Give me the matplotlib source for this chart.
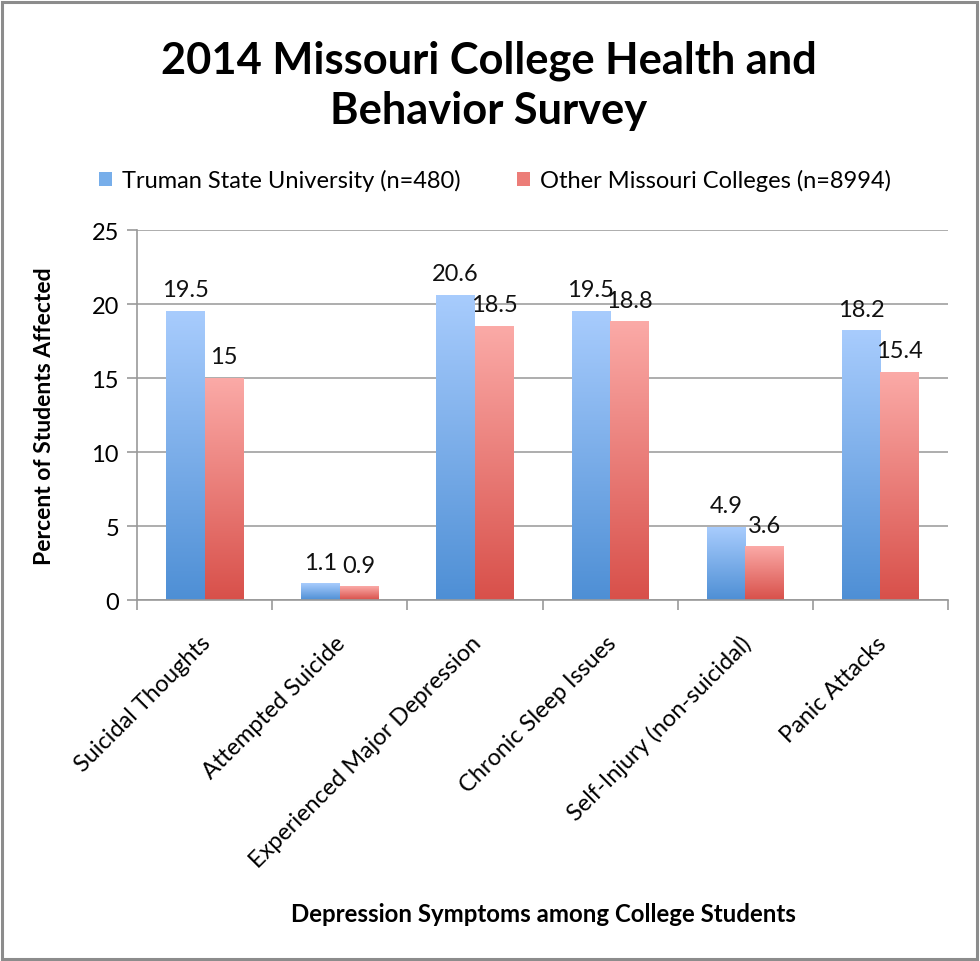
import matplotlib
matplotlib.use("Agg")
import matplotlib.pyplot as plt
import numpy as np
from matplotlib.patches import Rectangle, Patch
from matplotlib.colors import LinearSegmentedColormap
from matplotlib.transforms import ScaledTranslation

categories = ["Suicidal Thoughts", "Attempted Suicide", "Experienced Major Depression",
              "Chronic Sleep Issues", "Self-Injury (non-suicidal)", "Panic Attacks"]
truman = [19.5, 1.1, 20.6, 19.5, 4.9, 18.2]
other = [15, 0.9, 18.5, 18.8, 3.6, 15.4]
truman_labels = ["19.5", "1.1", "20.6", "19.5", "4.9", "18.2"]
other_labels = ["15", "0.9", "18.5", "18.8", "3.6", "15.4"]
series_names = ["Truman State University (n=480)", "Other Missouri Colleges (n=8994)"]
yticks = [0, 5, 10, 15, 20, 25]

FONT = ["Lato", "DejaVu Sans"]
plt.rcParams['font.family'] = FONT

fig = plt.figure(figsize=(9.8, 9.62), dpi=100)
ax = fig.add_axes([137/980, 1-601/962, (948-137)/980, (601-231)/962])

blue_cmap = LinearSegmentedColormap.from_list("b", ["#4e8fd5", "#a8ccfd"])
red_cmap = LinearSegmentedColormap.from_list("r", ["#d8504a", "#fbaaa7"])
grad = np.linspace(0, 1, 256).reshape(-1, 1)

x = np.arange(len(categories))
w = 0.285

ax.set_axisbelow(True)
ax.yaxis.grid(True, color="#a0a0a0", linewidth=1.2)
for vals, labs, off, cmap in [(truman, truman_labels, -w/2, blue_cmap), (other, other_labels, w/2, red_cmap)]:
    bars = ax.bar(x + off, vals, width=w, color="none", edgecolor="none", zorder=2)
    for b, v, lab in zip(bars, vals, labs):
        x0 = b.get_x()
        ax.imshow(grad, extent=[x0, x0 + w, 0, v], origin="lower", cmap=cmap,
                  aspect="auto", zorder=2, interpolation="bilinear")
        ax.text(x0 + w/2, v + 0.75, lab, ha="center", va="bottom", fontsize=17, color="#111111")

ax.set_xlim(-0.5, len(categories) - 0.5)
ax.set_ylim(0, 25)
ax.set_yticks(yticks)
ax.tick_params(axis="y", length=7, color="#999999", labelsize=17, pad=6, width=1.2)

ax.set_xticks(np.arange(-0.5, len(categories) + 0.5, 1.0))
ax.set_xticklabels([])
ax.tick_params(axis="x", which="major", length=7, color="#999999", width=1.2)
ax.set_xticks(x, minor=True)
ax.set_xticklabels(categories, minor=True, rotation=45, ha="right", rotation_mode="anchor", fontsize=16.9)
ax.tick_params(axis="x", which="minor", length=0, pad=23)
shift = ScaledTranslation(-5/100, 0, fig.dpi_scale_trans)
for lab in ax.get_xticklabels(minor=True):
    lab.set_transform(lab.get_transform() + shift)

for s in ["top", "right"]:
    ax.spines[s].set_visible(False)
for s in ["left", "bottom"]:
    ax.spines[s].set_color("#999999")
    ax.spines[s].set_linewidth(1.2)

ax.set_ylabel("Percent of Students Affected", fontsize=16.5, fontweight="bold")
ax.yaxis.set_label_coords((55 - 137) / (948 - 137), 0.5)
fig.text(543/980, 1-915/962, "Depression Symptoms among College Students", ha="center", va="center",
         fontsize=17.3, fontweight="bold")

fig.text(489/980, 1-86/962, "2014 Missouri College Health and\nBehavior Survey", ha="center", va="center",
         fontsize=31.2, fontweight="bold", linespacing=1.3)

handles = [Patch(facecolor="#77aeea", edgecolor="none"), Patch(facecolor="#ec7d78", edgecolor="none")]
fig.legend(handles, series_names, loc="center", bbox_to_anchor=(495/980, 1-181/962), ncol=2,
           frameon=False, fontsize=17, handlelength=0.55, handleheight=0.55, handletextpad=0.4,
           columnspacing=2.4)

fig.patches.append(Rectangle((2/980, 2/962), 975/980, 957/962, transform=fig.transFigure,
                             fill=False, edgecolor="#8c8c8c", linewidth=2.2))

fig.savefig("out.png", dpi=100, facecolor="white")
